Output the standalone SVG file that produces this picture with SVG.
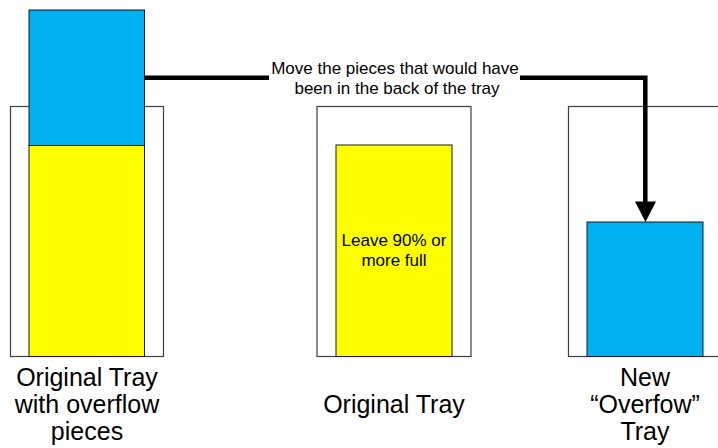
<svg xmlns="http://www.w3.org/2000/svg" width="718" height="448" viewBox="0 0 718 448">
<style>
.tray{fill:#fff;stroke:#404040;stroke-width:1.2}
.blue{fill:#00B0F0;stroke:#1a1a1a;stroke-width:1}
.yellow{fill:#FFFF00;stroke:#1a1a1a;stroke-width:1}
.lbl{font-family:"Liberation Sans",Arial,sans-serif;font-size:25px;fill:#000;text-anchor:middle}
.sm{font-family:"Liberation Sans",Arial,sans-serif;font-size:17px;fill:#000;text-anchor:middle}
.conn{fill:none;stroke:#000;stroke-width:4.5}
</style>
<g id="tray-left">
<rect class="tray" x="10.5" y="106.5" width="153" height="250"/>
<rect class="yellow" x="29" y="145.5" width="115.5" height="211"/>
<rect class="blue" x="29" y="10" width="115.5" height="135.5"/>
<text class="lbl" x="87" y="386">Original Tray</text>
<text class="lbl" x="87" y="413">with overflow</text>
<text class="lbl" x="87" y="440">pieces</text>
</g>
<g id="tray-middle">
<rect class="tray" x="317" y="106.5" width="154" height="250"/>
<rect class="yellow" x="336" y="145" width="116" height="211.5"/>
<text class="sm" x="394" y="246">Leave 90% or</text>
<text class="sm" x="394" y="266">more full</text>
<text class="lbl" x="394" y="413">Original Tray</text>
</g>
<g id="tray-right">
<rect class="tray" x="568.5" y="106.5" width="154" height="250"/>
<rect class="blue" x="587" y="222" width="116" height="134.5"/>
<text class="lbl" x="645" y="386">New</text>
<text class="lbl" x="645" y="413">“Overfow”</text>
<text class="lbl" x="645" y="440">Tray</text>
</g>
<g id="connectors">
<polyline class="conn" points="144.5,77.8 645.3,77.8 645.3,203"/>
<polygon points="635,201.5 656,201.5 645.5,222" fill="#000"/>
<rect x="269" y="58" width="251" height="40" fill="#fff"/>
<text class="sm" x="395" y="74">Move the pieces that would have</text>
<text class="sm" x="397" y="94">been in the back of the tray</text>
</g>
</svg>
